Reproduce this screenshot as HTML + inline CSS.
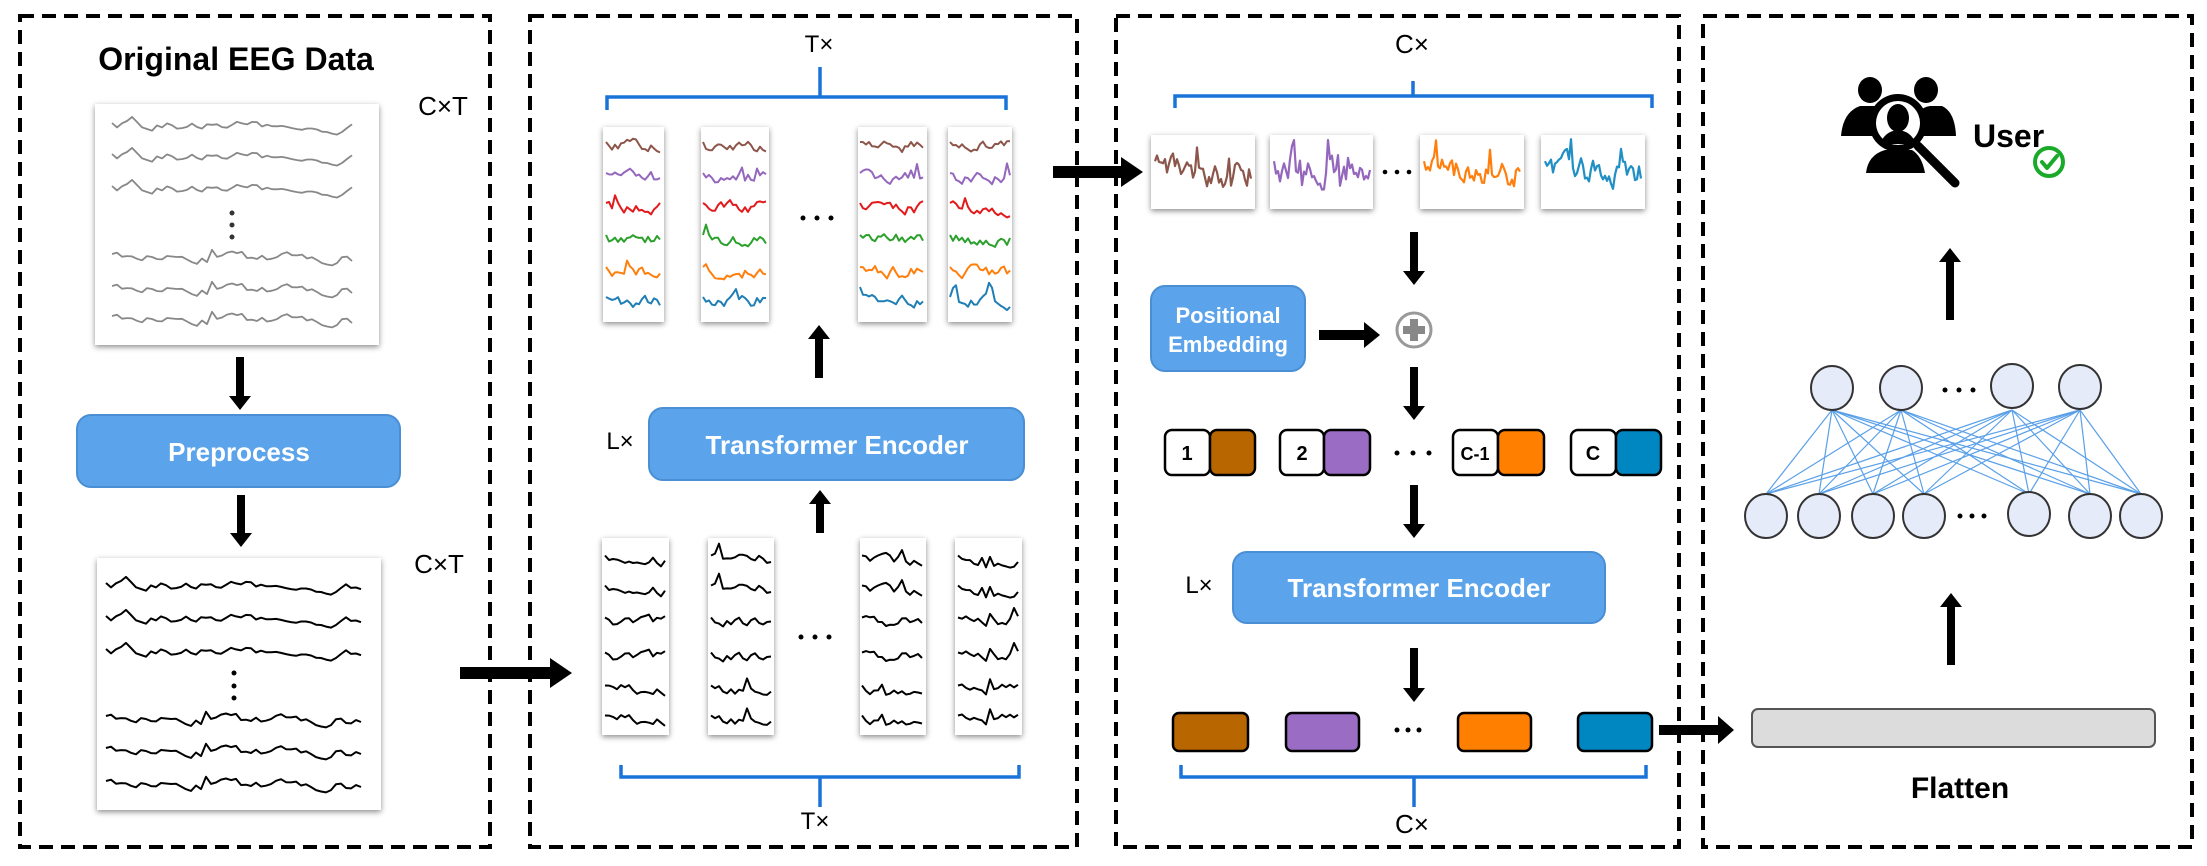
<!DOCTYPE html>
<html><head><meta charset="utf-8">
<style>
html,body{margin:0;padding:0;background:#fff;}
svg{display:block;}
text{font-family:"Liberation Sans",Arial,sans-serif;}
</style></head>
<body>
<svg id="s" width="2207" height="866" viewBox="0 0 2207 866" xmlns="http://www.w3.org/2000/svg">
<defs>
<filter id="sh" x="-20%" y="-20%" width="140%" height="140%">
<feDropShadow dx="0" dy="2" stdDeviation="3" flood-color="#000" flood-opacity="0.45"/>
</filter>
</defs>
<rect width="2207" height="866" fill="#fff"/>
<g fill="none" stroke="#000" stroke-width="4" stroke-dasharray="14 8">
<rect x="20" y="16" width="470" height="831"/>
<rect x="530" y="16" width="547" height="831"/>
<rect x="1116" y="16" width="563" height="831"/>
<rect x="1703" y="16" width="489" height="831"/>
</g>

<text x="236" y="70" font-size="32" font-weight="bold" text-anchor="middle">Original EEG Data</text>
<text x="443" y="115" font-size="26" text-anchor="middle">C×T</text>
<rect x="95" y="104" width="284" height="241" fill="#fff" filter="url(#sh)"/>
<g fill="#333"><circle cx="232" cy="213" r="2.5"/><circle cx="232" cy="225" r="2.5"/><circle cx="232" cy="237" r="2.5"/></g>
<polygon points="236,357 244,357 244,396 251,396 240,410 229,396 236,396" fill="#000"/>
<rect x="77" y="415" width="323" height="72" rx="14" fill="#5ba3ea" stroke="#4a8fd4" stroke-width="2"/>
<text x="239" y="461" font-size="26" font-weight="bold" fill="#fff" text-anchor="middle">Preprocess</text>
<polygon points="237,495 245,495 245,533 252,533 241,547 230,533 237,533" fill="#000"/>
<text x="439" y="573" font-size="26" text-anchor="middle">C×T</text>
<rect x="97" y="558" width="284" height="252" fill="#fff" filter="url(#sh)"/>
<g fill="#000"><circle cx="234" cy="673" r="2.5"/><circle cx="234" cy="686" r="2.5"/><circle cx="234" cy="698" r="2.5"/></g>
<polygon points="460,667 550,667 550,658 572,673 550,688 550,679 460,679" fill="#000"/>

<text x="819" y="52" font-size="24" text-anchor="middle">T×</text>
<g fill="none" stroke="#1a73d9" stroke-width="3.5">
<polyline points="607,110 607,97 1006,97 1006,110"/>
<line x1="820" y1="67" x2="820" y2="97"/>
<polyline points="621,765 621,777 1019,777 1019,765"/>
<line x1="820" y1="777" x2="820" y2="807"/>
</g>
<g filter="url(#sh)" fill="#fff">
<rect x="603" y="127" width="61" height="195"/>
<rect x="701" y="127" width="68" height="195"/>
<rect x="858" y="127" width="69" height="195"/>
<rect x="948" y="127" width="64" height="195"/>
<rect x="602" y="538" width="67" height="197"/>
<rect x="708" y="538" width="66" height="197"/>
<rect x="860" y="538" width="66" height="197"/>
<rect x="955" y="538" width="67" height="197"/>
</g>
<g fill="#000"><circle cx="803" cy="218" r="2.5"/><circle cx="817" cy="218" r="2.5"/><circle cx="831" cy="218" r="2.5"/>
<circle cx="801" cy="637" r="2.5"/><circle cx="815" cy="637" r="2.5"/><circle cx="829" cy="637" r="2.5"/></g>
<polygon points="815,378 823,378 823,339 830,339 819,325 808,339 815,339" fill="#000"/>
<text x="620" y="449" font-size="24" text-anchor="middle">L×</text>
<rect x="649" y="408" width="375" height="72" rx="14" fill="#5ba3ea" stroke="#4a8fd4" stroke-width="2"/>
<text x="837" y="454" font-size="26" font-weight="bold" fill="#fff" text-anchor="middle">Transformer Encoder</text>
<polygon points="816,533 824,533 824,504 831,504 820,490 809,504 816,504" fill="#000"/>
<text x="815" y="829" font-size="24" text-anchor="middle">T×</text>
<polygon points="1053,166 1121,166 1121,157 1143,172 1121,187 1121,178 1053,178" fill="#000"/>

<text x="1412" y="53" font-size="26" text-anchor="middle">C×</text>
<g fill="none" stroke="#1a73d9" stroke-width="3.5">
<polyline points="1175,108 1175,96 1652,96 1652,108"/>
<line x1="1413" y1="81" x2="1413" y2="96"/>
<polyline points="1181,765 1181,777 1646,777 1646,765"/>
<line x1="1414" y1="777" x2="1414" y2="807"/>
</g>
<g filter="url(#sh)" fill="#fff">
<rect x="1151" y="135" width="104" height="74"/>
<rect x="1270" y="135" width="103" height="74"/>
<rect x="1420" y="135" width="104" height="74"/>
<rect x="1541" y="135" width="104" height="74"/>
</g>
<g fill="#000"><circle cx="1385" cy="172" r="2.3"/><circle cx="1397" cy="172" r="2.3"/><circle cx="1409" cy="172" r="2.3"/></g>
<polygon points="1410,232 1418,232 1418,271 1425,271 1414,285 1403,271 1410,271" fill="#000"/>
<rect x="1151" y="286" width="154" height="85" rx="14" fill="#5ba3ea" stroke="#4a8fd4" stroke-width="2"/>
<text x="1228" y="323" font-size="22" font-weight="bold" fill="#fff" text-anchor="middle">Positional</text>
<text x="1228" y="352" font-size="22" font-weight="bold" fill="#fff" text-anchor="middle">Embedding</text>
<polygon points="1319,330 1364,330 1364,322 1380,335 1364,348 1364,340 1319,340" fill="#000"/>
<circle cx="1414" cy="330" r="17" fill="#fff" stroke="#999" stroke-width="3"/>
<rect x="1410" y="319" width="8" height="22" fill="#888"/>
<rect x="1403" y="326" width="22" height="8" fill="#888"/>
<polygon points="1410,367 1418,367 1418,406 1425,406 1414,420 1403,406 1410,406" fill="#000"/>
<g stroke="#000" stroke-width="2.5">
<rect x="1165" y="430" width="45" height="45" rx="7" fill="#fff"/>
<rect x="1210" y="430" width="45" height="45" rx="7" fill="#b86600"/>
<rect x="1280" y="430" width="44" height="45" rx="7" fill="#fff"/>
<rect x="1324" y="430" width="46" height="45" rx="7" fill="#9b6cc4"/>
<rect x="1453" y="430" width="45" height="45" rx="7" fill="#fff"/>
<rect x="1498" y="430" width="46" height="45" rx="7" fill="#ff7f00"/>
<rect x="1571" y="430" width="45" height="45" rx="7" fill="#fff"/>
<rect x="1616" y="430" width="45" height="45" rx="7" fill="#0087c2"/>
</g>
<g font-size="20" font-weight="bold" text-anchor="middle">
<text x="1187" y="460">1</text><text x="1302" y="460">2</text>
<text x="1475" y="460" font-size="18">C-1</text><text x="1593" y="460">C</text>
</g>
<g fill="#000"><circle cx="1397" cy="453" r="2.5"/><circle cx="1413" cy="453" r="2.5"/><circle cx="1429" cy="453" r="2.5"/></g>
<polygon points="1410,485 1418,485 1418,524 1425,524 1414,538 1403,524 1410,524" fill="#000"/>
<text x="1199" y="593" font-size="24" text-anchor="middle">L×</text>
<rect x="1233" y="552" width="372" height="71" rx="14" fill="#5ba3ea" stroke="#4a8fd4" stroke-width="2"/>
<text x="1419" y="597" font-size="26" font-weight="bold" fill="#fff" text-anchor="middle">Transformer Encoder</text>
<polygon points="1410,648 1418,648 1418,688 1425,688 1414,702 1403,688 1410,688" fill="#000"/>
<g stroke="#000" stroke-width="2.5">
<rect x="1173" y="713" width="75" height="38" rx="6" fill="#b86600"/>
<rect x="1286" y="713" width="73" height="38" rx="6" fill="#9b6cc4"/>
<rect x="1458" y="713" width="73" height="38" rx="6" fill="#ff7f00"/>
<rect x="1578" y="713" width="74" height="38" rx="6" fill="#0087c2"/>
</g>
<g fill="#000"><circle cx="1397" cy="730" r="2.5"/><circle cx="1408" cy="730" r="2.5"/><circle cx="1419" cy="730" r="2.5"/></g>
<text x="1412" y="833" font-size="26" text-anchor="middle">C×</text>
<polygon points="1659,725 1718,725 1718,716 1734,730 1718,744 1718,735 1659,735" fill="#000"/>

<rect x="1752" y="709" width="403" height="38" rx="6" fill="#dcdcdc" stroke="#555" stroke-width="2"/>
<text x="1960" y="798" font-size="30" font-weight="bold" text-anchor="middle">Flatten</text>
<polygon points="1947,665 1955,665 1955,607 1962,607 1951,593 1940,607 1947,607" fill="#000"/>
<g id="nn" stroke="#5aa0e8" stroke-width="1.2"></g>
<g fill="#e6ebfa" stroke="#333" stroke-width="2">
<ellipse cx="1766" cy="516" rx="21" ry="22"/><ellipse cx="1819" cy="516" rx="21" ry="22"/>
<ellipse cx="1873" cy="516" rx="21" ry="22"/><ellipse cx="1924" cy="516" rx="21" ry="22"/>
<ellipse cx="2029" cy="514" rx="21" ry="22"/><ellipse cx="2090" cy="516" rx="21" ry="22"/>
<ellipse cx="2141" cy="516" rx="21" ry="22"/>
<ellipse cx="1832" cy="388" rx="21" ry="22"/><ellipse cx="1901" cy="388" rx="21" ry="22"/>
<ellipse cx="2012" cy="386" rx="21" ry="22"/><ellipse cx="2080" cy="387" rx="21" ry="22"/>
</g>
<g fill="#000"><circle cx="1960" cy="516" r="2.5"/><circle cx="1972" cy="516" r="2.5"/><circle cx="1984" cy="516" r="2.5"/>
<circle cx="1945" cy="390" r="2.5"/><circle cx="1959" cy="390" r="2.5"/><circle cx="1973" cy="390" r="2.5"/></g>
<polygon points="1946,320 1954,320 1954,262 1961,262 1950,248 1939,262 1946,262" fill="#000"/>
<g fill="#000">
<ellipse cx="1870" cy="90" rx="12" ry="13"/>
<ellipse cx="1926" cy="90" rx="12" ry="13"/>
<path d="M1841,136 Q1843,112 1860,106 L1880,106 Q1888,110 1890,120 L1885,136 Z"/>
<path d="M1915,120 Q1918,108 1930,106 L1942,106 Q1955,112 1956,136 L1912,136 Z"/>
<path d="M1866,173 Q1868,155 1885,150 L1912,150 Q1922,156 1925,173 Z"/>
<circle cx="1898" cy="123" r="29"/>
</g>
<circle cx="1898" cy="123" r="22" fill="#fff"/>
<ellipse cx="1898" cy="118" rx="11" ry="14" fill="#000"/>
<path d="M1880,144 Q1885,131 1898,130 Q1911,131 1916,144 Z" fill="#000"/>
<line x1="1918" y1="146" x2="1955" y2="183" stroke="#000" stroke-width="9" stroke-linecap="round"/>
<text x="1973" y="147" font-size="32" font-weight="bold">User</text>
<circle cx="2049" cy="162" r="14" fill="#fff" stroke="#1aaa2a" stroke-width="4"/>
<polyline points="2042,162 2047,168 2057,156" fill="none" stroke="#1aaa2a" stroke-width="4" stroke-linecap="round" stroke-linejoin="round"/>
<g id="waves"></g>
</svg>
<script>
(function(){
var NS="http://www.w3.org/2000/svg";
var W=document.getElementById("waves");
var seed=12345;
function rnd(){seed=(seed*16807)%2147483647;return seed/2147483647;}
function wave(x0,x1,y,amp,color,w,s,step,spk){
  seed=s;var pts=[],v=0;
  for(var x=x0;x<=x1;x+=step){
    v=v*0.6+(rnd()-0.5)*amp;
    var yy=v;
    if(spk && rnd()<spk) yy-=amp*1.0;
    pts.push(x.toFixed(1)+","+(y+yy).toFixed(1));
  }
  var p=document.createElementNS(NS,"polyline");
  p.setAttribute("points",pts.join(" "));
  p.setAttribute("fill","none");p.setAttribute("stroke",color);
  p.setAttribute("stroke-width",w);p.setAttribute("stroke-linejoin","round");
  W.appendChild(p);
}
[127,158,190,258,290,320].forEach(function(y,i){wave(112,352,y,8,"#888",1.8,100+(i<3?1:2)*7,5,0.02);});
[587,620,653,720,752,785].forEach(function(y,i){wave(106,363,y,8,"#000",2,100+(i<3?1:2)*7,5,0.02);});
var cols=["#8c564b","#9467bd","#e31a1c","#2ca02c","#ff7f0e","#1f7fb4"];
var rows=[147,178,208,240,272,302];
[[606,662],[703,767],[860,925],[950,1010]].forEach(function(c,j){
  rows.forEach(function(y,i){wave(c[0],c[1],y,10,cols[i],2,300+j*11+i,3,0.03);});
});
var rows2=[560,590,622,657,690,720];
[[605,667],[711,772],[862,924],[958,1020]].forEach(function(c,j){
  rows2.forEach(function(y,i){wave(c[0],c[1],y,9,"#000",2,500+j*7+(i>>1),4,0.03);});
});
[[1155,1252,"#8c564b"],[1274,1370,"#9467bd"],[1424,1521,"#ff7f0e"],[1545,1642,"#1f8fc4"]].forEach(function(c,j){
  wave(c[0],c[1],172,22,c[2],2.2,900+j*13,2,0.04);
});
var G=document.getElementById("nn");
var bot=[1766,1819,1873,1924,2029,2090,2141], top=[1832,1901,2012,2080];
bot.forEach(function(b){top.forEach(function(t){
  var l=document.createElementNS(NS,"line");
  l.setAttribute("x1",b);l.setAttribute("y1",494);l.setAttribute("x2",t);l.setAttribute("y2",410);
  G.appendChild(l);});});
})();
</script>
</body></html>
